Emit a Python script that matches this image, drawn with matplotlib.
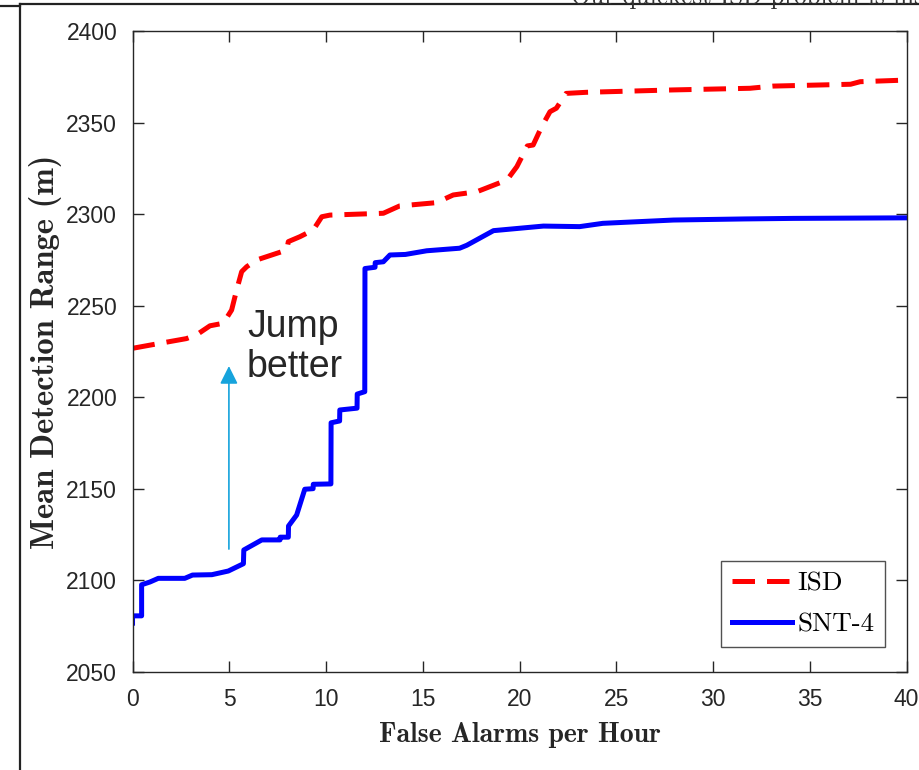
import numpy as np
import matplotlib
matplotlib.use("Agg")
import matplotlib.pyplot as plt
from matplotlib.lines import Line2D

# SNT-4 curve: mean detection range vs false alarm rate
snt_far = [0, 0, 0.47, 0.47, 0.9, 1.33, 2.7, 3.1, 4.1, 4.95, 5.73, 5.75, 6.68,
           7.62, 7.63, 8.05, 8.06, 8.48, 8.9, 9.33, 9.34, 10.25, 10.26, 10.7,
           10.71, 11.6, 11.61, 12.0, 12.01, 12.53, 12.54, 12.96, 13.3, 14.1,
           15.2, 16.9, 17.27, 18.65, 21.23, 23.1, 24.3, 27.95, 31.6, 34.15, 40]
snt_range = [2076.5, 2080.5, 2080.5, 2097.5, 2099, 2101, 2101, 2102.8, 2103,
             2105, 2109, 2116.5, 2122, 2122, 2123.5, 2123.5, 2129.6, 2135.6,
             2149.7, 2150, 2152.4, 2152.6, 2186, 2187, 2193, 2194, 2201.7,
             2203, 2270.3, 2271, 2273.5, 2274, 2277.7, 2278, 2280, 2281.4,
             2283, 2291, 2293.5, 2293.2, 2295, 2296.8, 2297.4, 2297.7, 2298]

# ISD curve
isd_far = [0, 1.4, 2.78, 3.3, 4.0, 4.69, 5.12, 5.38, 5.64, 5.9, 6.42, 7.45,
           7.97, 8.05, 8.65, 9.34, 9.78, 10.2, 12.96, 13.8, 15.7, 16.57, 17.8,
           19.35, 19.86, 20.4, 20.7, 21.14, 21.57, 21.9, 22.4, 23.45, 27.93,
           31.9, 33.1, 37.1, 37.6, 40]
isd_range = [2226.7, 2229.4, 2232, 2234, 2239, 2240.4, 2247.6, 2258.6, 2268.6,
             2271.3, 2275, 2278.6, 2280.4, 2285, 2287.7, 2291.4, 2298.6,
             2299.5, 2300.5, 2304.5, 2306.3, 2310.5, 2312.3, 2318.7, 2326,
             2337.3, 2337.8, 2347.8, 2356, 2357.9, 2366, 2366.6, 2367.9,
             2368.8, 2370, 2371, 2372.4, 2373.3]

xticks = [0, 5, 10, 15, 20, 25, 30, 35, 40]
yticks = [2050, 2100, 2150, 2200, 2250, 2300, 2350, 2400]

fig = plt.figure(figsize=(9.19, 7.7), dpi=100)
ax = fig.add_axes([0.1442, 0.1277, 0.8424, 0.8318])

ax.plot(isd_far, isd_range, color="#ff0000", lw=3.6, dashes=(4.5, 2.4),
        dash_capstyle="butt", label="ISD")
ax.plot(snt_far, snt_range, color="#0000ff", lw=3.6,
        solid_joinstyle="round", label="SNT-4")

ax.annotate("", xy=(4.98, 2217), xytext=(4.98, 2117),
            arrowprops=dict(arrowstyle="-|>", color="#16a3dc", lw=1.2,
                            mutation_scale=27, shrinkA=0, shrinkB=0))
ax.text(5.92, 2248, "Jump\nbetter", family="Liberation Sans", fontsize=27,
        color="#262626", va="top", ha="left", linespacing=1.12)

ax.set_xlim(0, 40)
ax.set_ylim(2050, 2400)
ax.set_xticks(xticks)
ax.set_yticks(yticks)
ax.tick_params(direction="in", length=8, width=1, top=True, right=True,
               colors="#262626", labelsize=16.5)
ax.tick_params(axis="x", pad=12)
ax.tick_params(axis="y", pad=11)
for lab in ax.get_xticklabels() + ax.get_yticklabels():
    lab.set_family("Liberation Sans")
for sp in ax.spines.values():
    sp.set_color("#262626")
    sp.set_linewidth(1.0)

ax.set_xlabel("False Alarms per Hour", family="cmb10", fontsize=20,
              color="#262626")
ax.set_ylabel("Mean Detection Range (m)", family="cmb10", fontsize=23.5,
              color="#262626")
ax.xaxis.set_label_coords(0.5005, -0.078)
ax.yaxis.set_label_coords(-0.091, 0.5)

leg = ax.legend(loc="lower right", bbox_to_anchor=(0.972, 0.0386),
                borderaxespad=0, fancybox=False, edgecolor="#262626",
                prop={"family": "cmr10", "size": 19.5}, handlelength=2.2,
                handletextpad=0.2, borderpad=0.4, labelspacing=0.62)
leg.get_frame().set_linewidth(1.0)

# slide frame around the plot
fig.add_artist(Line2D([0, 20 / 919], [1 - 6 / 770, 1 - 6 / 770],
                      color="#222222", lw=1.6, transform=fig.transFigure))
fig.add_artist(Line2D([20 / 919, 1], [1 - 4 / 770, 1 - 4 / 770],
                      color="#222222", lw=1.6, transform=fig.transFigure))
fig.add_artist(Line2D([20 / 919, 20 / 919], [0, 1 - 4 / 770],
                      color="#222222", lw=1.6, transform=fig.transFigure))
fig.text(571 / 919, 1 - 4 / 770, "Our quickest ISD problem is ins",
         family="cmr10", fontsize=18, color="#333333", va="baseline")

fig.savefig("out.png", dpi=100)
